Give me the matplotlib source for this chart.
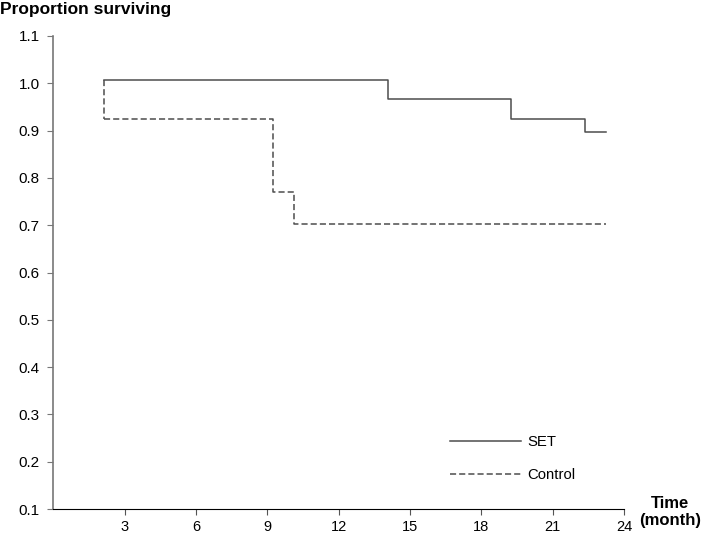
import matplotlib.pyplot as plt

plt.rcParams['font.family'] = ['Liberation Sans', 'DejaVu Sans']

# step points (time in months, proportion surviving)
set_t = [2.14, 14.09, 19.26, 22.36, 23.24]
set_p = [1.007, 0.967, 0.925, 0.896, 0.896]
ctrl_t = [2.14, 9.25, 10.12, 23.24]
ctrl_p = [0.924, 0.770, 0.703, 0.703]

x_ticks = [3, 6, 9, 12, 15, 18, 21, 24]
y_ticks = [0.1, 0.2, 0.3, 0.4, 0.5, 0.6, 0.7, 0.8, 0.9, 1.0, 1.1]

fig = plt.figure(figsize=(7.03, 5.34), dpi=100)
ax = fig.add_axes([0.0761, 0.0468, 0.8115, 0.8858])

line_col = '#4d4d4d'
dash = (4, 2)
ax.step(set_t, set_p, where='post', color=line_col, lw=1.1, label='SET')
ax.step(ctrl_t, ctrl_p, where='post', color=line_col, lw=1.1,
        dashes=dash, label='Control')
# dashed vertical link between the two curves at the first event
ax.plot([ctrl_t[0], ctrl_t[0]], [set_p[0], ctrl_p[0]], color=line_col,
        lw=1.1, dashes=dash)

ax.set_xlim(0, 24)
ax.set_ylim(0.1, 1.1)
ax.set_xticks(x_ticks)
ax.set_yticks(y_ticks)
ax.set_yticklabels([f'{v:.1f}' for v in y_ticks])

for s in ['top', 'right']:
    ax.spines[s].set_visible(False)
ax.spines['left'].set_color('#777777')
ax.spines['left'].set_linewidth(1.2)
ax.spines['bottom'].set_color('black')
ax.tick_params(axis='y', colors='#777777', labelcolor='black', length=4,
               labelsize=11, pad=6)
ax.tick_params(axis='x', colors='#555555', labelcolor='black', length=4,
               labelsize=10.5, pad=4)

fig.text(0.0, 0.996, 'Proportion surviving', fontsize=12.5, fontweight='bold',
         va='top', ha='left')
fig.text(0.953, 0.041, 'Time\n(month)', fontsize=12, fontweight='bold',
         ha='center', va='center', linespacing=1.15)

ax.legend(loc='upper left', bbox_to_anchor=(450 / 703, 1 - 435 / 534),
          bbox_transform=fig.transFigure, frameon=False, borderpad=0,
          borderaxespad=0, handlelength=4.8, fontsize=10.7,
          labelspacing=1.3, handletextpad=0.4)

fig.savefig('out.png', dpi=100)
